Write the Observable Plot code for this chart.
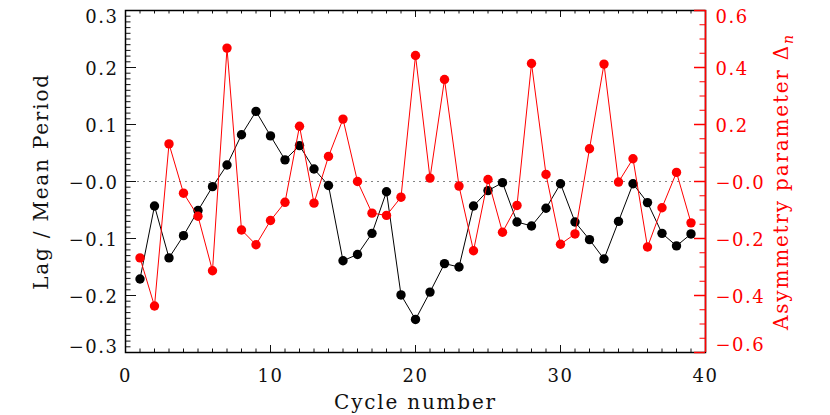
<!DOCTYPE html>
<html><head><meta charset="utf-8">
<script src="https://cdn.jsdelivr.net/npm/d3@7"></script>
<script src="https://cdn.jsdelivr.net/npm/@observablehq/plot@0.6"></script>
<style>body{margin:0;background:#fff} svg text{font-family:'DejaVu Serif',serif}</style>
</head><body><div id="chart"></div>
<script>
const cycles = d3.range(1, 40);
const lagValues = [-0.171,-0.043,-0.134,-0.095,-0.051,-0.009,0.029,0.082,0.123,0.080,0.038,0.063,0.022,-0.007,-0.139,-0.128,-0.091,-0.018,-0.199,-0.242,-0.194,-0.144,-0.150,-0.043,-0.016,-0.002,-0.071,-0.078,-0.047,-0.004,-0.071,-0.102,-0.136,-0.070,-0.004,-0.037,-0.091,-0.113,-0.092];
const asymValues = [-0.268,-0.437,0.132,-0.041,-0.122,-0.313,0.468,-0.170,-0.222,-0.137,-0.073,0.194,-0.076,0.088,0.219,0.000,-0.111,-0.119,-0.055,0.442,0.012,0.358,-0.016,-0.243,0.007,-0.178,-0.084,0.414,0.025,-0.220,-0.184,0.115,0.412,-0.002,0.080,-0.230,-0.092,0.032,-0.145];

const xTicks = [0, 10, 20, 30, 40];
const xTickLabels = ["0", "10", "20", "30", "40"];
const leftTicks = [-0.3, -0.2, -0.1, 0, 0.1, 0.2, 0.3];
const leftTickLabels = ["−0.3", "−0.2", "−0.1", "−0.0", "0.1", "0.2", "0.3"];
const rightTicks = [-0.6, -0.4, -0.2, 0, 0.2, 0.4, 0.6];
const rightTickLabels = ["−0.6", "−0.4", "−0.2", "−0.0", "0.2", "0.4", "0.6"];

const xDomain = [0, 40];
const leftDomain = [-0.3, 0.3];
const rightDomain = [-0.6, 0.6];
const ratio = leftDomain[1] / rightDomain[1];

const xMinor = d3.range(0, 41, 1);
const leftMinor = d3.range(-30, 31, 1).map(v => v / 100);
const rightMinor = d3.range(-12, 13, 1).map(v => v * 0.05 * ratio);
const rightMajorScaled = rightTicks.map(v => v * ratio);

const data = cycles.map((c, i) => ({cycle: c, lag: lagValues[i], asym: asymValues[i] * ratio}));
const RED = "#ff0000";
const INK = "#111";
const FONT = "'DejaVu Serif', serif";

// layout
const W = 830, H = 415, mL = 125, mR = 125, mT = 10, mB = 63;
const xu = (xDomain[1] - xDomain[0]) / (W - mL - mR);   // x units per pixel
const yu = (leftDomain[1] - leftDomain[0]) / (H - mT - mB); // y units per pixel
const [x0, x1] = xDomain, [y0, y1] = leftDomain;

const leftFmt = d => leftTickLabels[leftTicks.indexOf(d)];
const rightFmt = d => rightTickLabels[rightMajorScaled.indexOf(d)];
const inner = arr => arr.filter(v => v > y0 && v < y1);

const chart = Plot.plot({
  width: W, height: H,
  marginLeft: mL, marginRight: mR, marginTop: mT, marginBottom: mB,
  x: {domain: xDomain},
  y: {domain: leftDomain},
  style: {fontFamily: FONT, fontSize: "18px", letterSpacing: "1.5px", color: INK, background: "#fff", overflow: "visible"},
  marks: [
    Plot.ruleY([0], {stroke: "#666", strokeWidth: 0.8, strokeDasharray: "2,4"}),
    // inward tick marks (IDL style)
    Plot.ruleX(xMinor, {y1: y0, y2: y0 + 3.5 * yu, stroke: INK}),
    Plot.ruleX(xTicks, {y1: y0, y2: y0 + 7 * yu, stroke: INK}),
    Plot.ruleX(xMinor, {y1: y1 - 3.5 * yu, y2: y1, stroke: INK}),
    Plot.ruleX(xTicks, {y1: y1 - 7 * yu, y2: y1, stroke: INK}),
    Plot.ruleY(leftMinor, {x1: x0, x2: x0 + 5.5 * xu, stroke: INK}),
    Plot.ruleY(leftTicks, {x1: x0, x2: x0 + 11 * xu, stroke: INK}),
    // tick labels
    Plot.axisX(xTicks, {anchor: "bottom", tickSize: 0, tickPadding: 17, tickFormat: d => xTickLabels[xTicks.indexOf(d)], label: null}),
    Plot.axisY(inner(leftTicks), {anchor: "left", tickSize: 0, tickPadding: 7, dy: 2, tickFormat: leftFmt, label: null}),
    Plot.axisY([y1], {anchor: "left", tickSize: 0, tickPadding: 7, dy: 7, tickFormat: leftFmt, label: null}),
    Plot.axisY([y0], {anchor: "left", tickSize: 0, tickPadding: 7, dy: -5, tickFormat: leftFmt, label: null}),
    Plot.frame({stroke: "#000", strokeWidth: 1.5}),
    // right y axis (red)
    Plot.ruleX([x1], {stroke: RED, strokeWidth: 1.5}),
    Plot.ruleY(rightMinor, {x1: x1 - 5.5 * xu, x2: x1, stroke: RED}),
    Plot.ruleY(rightMajorScaled, {x1: x1 - 11 * xu, x2: x1, stroke: RED, strokeWidth: 1.5}),
    Plot.axisY(inner(rightMajorScaled), {anchor: "right", tickSize: 0, tickPadding: 10, dy: 2, fill: RED, tickFormat: rightFmt, label: null}),
    Plot.axisY([y1], {anchor: "right", tickSize: 0, tickPadding: 10, dy: 7, fill: RED, tickFormat: rightFmt, label: null}),
    Plot.axisY([y0], {anchor: "right", tickSize: 0, tickPadding: 10, dy: -7, fill: RED, tickFormat: rightFmt, label: null}),
    // data
    Plot.line(data, {x: "cycle", y: "lag", stroke: "#000", strokeWidth: 1}),
    Plot.dot(data, {x: "cycle", y: "lag", r: 4.7, fill: "#000"}),
    Plot.line(data, {x: "cycle", y: "asym", stroke: RED, strokeWidth: 1}),
    Plot.dot(data, {x: "cycle", y: "asym", r: 4.7, fill: RED}),
    // axis titles
    Plot.text(["Lag / Mean Period"], {frameAnchor: "left", textAnchor: "middle", lineAnchor: "middle", rotate: -90, dx: -84, fontSize: 20, fill: INK, fontFamily: FONT}),
    Plot.text(["Asymmetry parameter Δ"], {frameAnchor: "right", textAnchor: "middle", lineAnchor: "middle", rotate: -90, dx: 76, fontSize: 20, fill: RED, fontFamily: FONT}),
    Plot.text(["Cycle number"], {frameAnchor: "bottom", textAnchor: "middle", lineAnchor: "middle", dy: 50, fontSize: 20, fill: INK, fontFamily: FONT})
  ]
});

// letter spacing on titles + subscript n
chart.querySelectorAll("text").forEach(t => {
  const txt = t.textContent;
  if (txt === "Lag / Mean Period" || txt === "Cycle number" || txt.startsWith("Asymmetry")) {
    t.setAttribute("letter-spacing", "1.8px");
  }
  if (txt === "Asymmetry parameter Δ") {
    const target = t.querySelector("tspan") || t;
    const sub = document.createElementNS("http://www.w3.org/2000/svg", "tspan");
    sub.setAttribute("font-style", "italic");
    sub.setAttribute("font-size", "14");
    sub.setAttribute("dy", "5");
    sub.textContent = "n";
    target.appendChild(sub);
  }
});

document.getElementById("chart").appendChild(chart);
</script></body></html>
